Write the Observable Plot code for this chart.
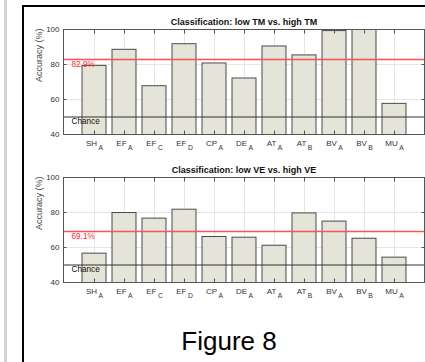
<!DOCTYPE html>
<html>
<head>
<meta charset="utf-8">
<script src="https://cdn.jsdelivr.net/npm/d3@7"></script>
<script src="https://cdn.jsdelivr.net/npm/@observablehq/plot@0.6"></script>
<style>
  html, body { margin: 0; padding: 0; background: #fff; }
  #page { position: relative; width: 425px; height: 362px; background: #fff; overflow: hidden; font-family: "Liberation Sans", Arial, Helvetica, sans-serif; }
  .abs { position: absolute; }
</style>
</head>
<body>
<div id="page">
  <div class="abs" style="left:3.5px;top:0;width:3px;height:362px;background:#d2d2d2;"></div>
  <div class="abs" id="p1" style="left:0;top:10px;"></div>
  <div class="abs" id="p2" style="left:0;top:158px;"></div>
  <div class="abs" style="left:22px;top:5px;width:410px;height:370px;border-left:2px solid #000;border-top:2px solid #000;z-index:5;"></div>
  <div class="abs" id="fig" style="left:129px;top:328px;width:200px;text-align:center;font-size:26px;line-height:26px;color:#000;">Figure 8</div>
</div>
<script>
// ---- data ----
const categories = ["SH_A", "EF_A", "EF_C", "EF_D", "CP_A", "DE_A", "AT_A", "AT_B", "BV_A", "BV_B", "MU_A"];
const tmValues = [79.2, 88.4, 67.6, 91.6, 80.6, 72.0, 90.3, 85.2, 99.1, 100.0, 57.5];
const veValues = [56.5, 79.7, 76.5, 81.6, 66.0, 65.6, 61.0, 79.5, 74.8, 65.0, 54.2];
const yTicks = [40, 60, 80, 100];
const gridY = [60, 80];
const chanceLevel = 50;
const chanceLabel = "Chance";
const yLabel = "Accuracy (%)";
const titleTM = "Classification: low TM vs. high TM";
const titleVE = "Classification: low VE vs. high VE";

const W = 425, H = 150, ML = 63, MR = 1, MT = 19, MB = 26;
const font = "'Liberation Sans', Arial, Helvetica, sans-serif";

function panel(title, values) {
  const data = categories.map((c, i) => ({label: c, value: values[i]}));
  const mean = d3.mean(values);
  const svg = Plot.plot({
    width: W, height: H,
    marginLeft: ML, marginRight: MR, marginTop: MT, marginBottom: MB,
    style: {fontFamily: font, background: "none", color: "#333", overflow: "visible"},
    x: {domain: categories, paddingInner: 0.2, paddingOuter: 0.6, align: 0.5},
    y: {domain: [40, 100]},
    marks: [
      Plot.gridX({stroke: "#e6e6e6", strokeOpacity: 1}),
      Plot.gridY({ticks: gridY, stroke: "#e6e6e6", strokeOpacity: 1}),
      Plot.barY(data, {x: "label", y: "value", fill: "#e4e4d9", stroke: "#4a4a4a", strokeWidth: 1, clip: true}),
      Plot.ruleY([chanceLevel], {stroke: "#333", strokeWidth: 1}),
      Plot.ruleY([mean], {stroke: "#ff5252", strokeWidth: 1.5}),
      Plot.text([mean], {y: d => d, text: d => d3.format(".1f")(d) + "%", frameAnchor: "left", textAnchor: "start", lineAnchor: "top", dx: 8, dy: 1.5, fill: "#ff2a2a", fontSize: 8.2}),
      Plot.text([chanceLevel], {y: d => d, text: () => chanceLabel, frameAnchor: "left", textAnchor: "start", lineAnchor: "top", dx: 8, dy: 1, fill: "#111", fontSize: 8.2}),
      Plot.frame({stroke: "#555"}),
      // inward ticks (box on)
      Plot.axisX({anchor: "top", tickSize: -3.5, tickFormat: () => "", label: null, stroke: "#555"}),
      Plot.axisY({anchor: "right", ticks: gridY, tickSize: -3.5, tickFormat: () => "", label: null, stroke: "#555"}),
      Plot.axisY({anchor: "left", ticks: yTicks, tickSize: -3.5, tickPadding: 7.5, fontSize: 8, label: null, stroke: "#555"}),
      Plot.axisX({anchor: "bottom", tickSize: -3.5, tickPadding: 9.5, fontSize: 8, label: null, stroke: "#555"}),
      Plot.text([title], {frameAnchor: "top", lineAnchor: "bottom", dy: -4.3, fontWeight: "bold", fontSize: 9, fill: "#111"}),
      Plot.text([yLabel], {frameAnchor: "left", rotate: -90, dx: -24, fontSize: 9, fill: "#444"})
    ]
  });
  // subscripts on x tick labels
  d3.select(svg).selectAll('g[aria-label="x-axis tick label"] text').each(function() {
    const parts = this.textContent.split("_");
    if (parts.length < 2) return;
    this.textContent = parts[0];
    d3.select(this).append("tspan").attr("dx", 1.5).attr("dy", 4).attr("font-size", 6.8).text(parts[1]);
  });
  return svg;
}

document.getElementById("p1").appendChild(panel(titleTM, tmValues));
document.getElementById("p2").appendChild(panel(titleVE, veValues));
</script>
</body>
</html>
